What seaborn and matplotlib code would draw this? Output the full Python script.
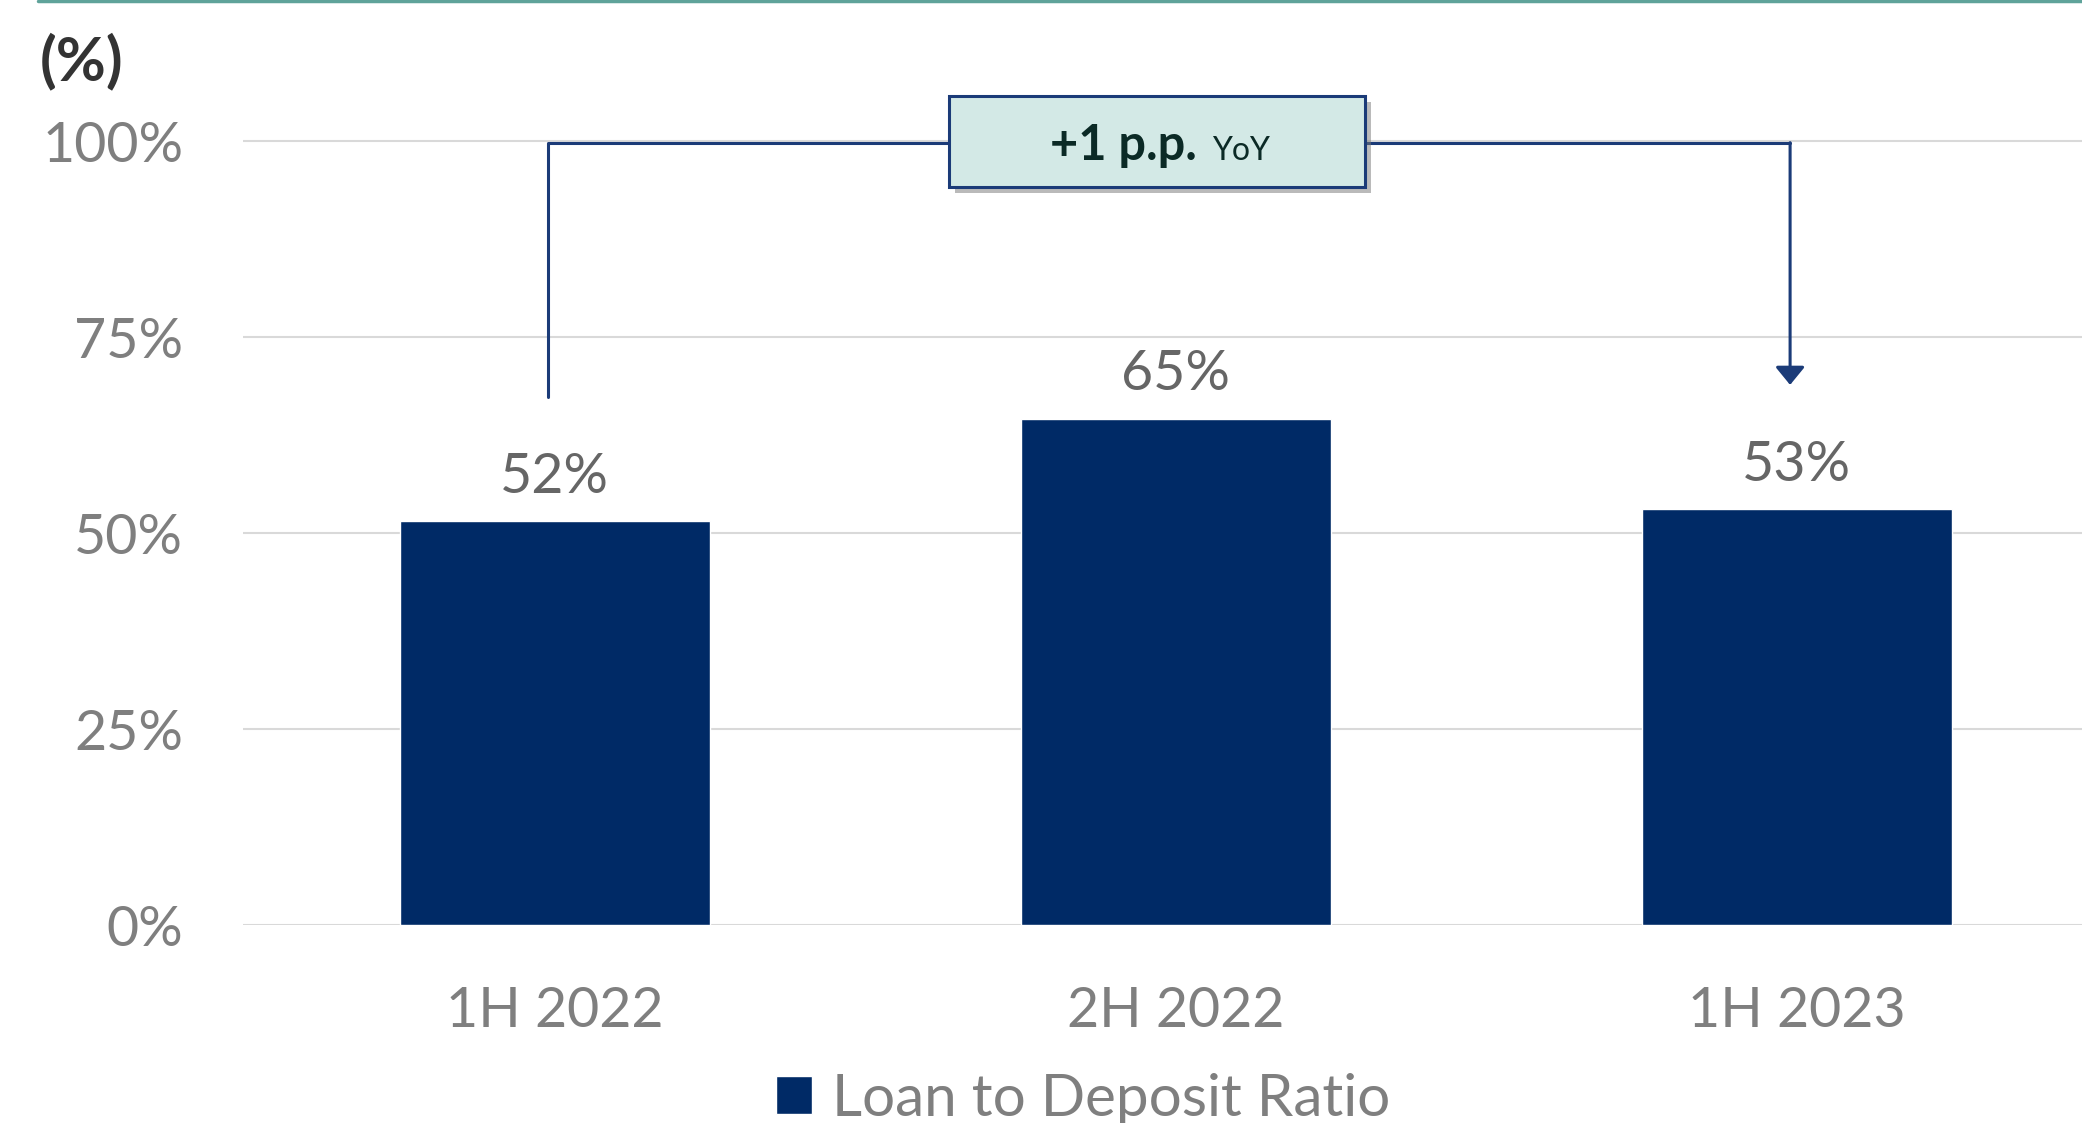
import matplotlib
matplotlib.use('Agg')
import matplotlib.pyplot as plt
import matplotlib.patheffects as pe
from matplotlib.patches import Rectangle
from matplotlib.lines import Line2D
import seaborn as sns
import pandas as pd

# data
periods = ['1H 2022', '2H 2022', '1H 2023']
ratios = [51.5, 64.6, 53.1]
value_labels = ['52%', '65%', '53%']
yticks = [0, 25, 50, 75, 100]
ytick_labels = ['0%', '25%', '50%', '75%', '100%']
series_name = 'Loan to Deposit Ratio'
change_bold = '+1 p.p.'
change_tail = 'YoY'

navy = '#002a66'
line_navy = '#1b3b78'
tick_grey = '#7f7f7f'
value_grey = '#666666'

sns.set_theme(style='white')
plt.rcParams['font.family'] = ['Lato', 'DejaVu Sans']

W, H = 2082, 1123
fig = plt.figure(figsize=(W / 100, H / 100), dpi=100)
ax = fig.add_axes([243 / W, 1 - 925 / H, 1 - 243 / W, 925 / H])

df = pd.DataFrame({'period': periods, 'ratio': ratios})
sns.barplot(data=df, x='period', y='ratio', color=navy, saturation=1,
            width=0.5, ax=ax, label=series_name, zorder=3)

ax.set_xlim(-0.502, 2.459)
ax.set_ylim(0, 118)
ax.set_yticks(yticks)
ax.set_yticklabels(ytick_labels)
ax.set_xlabel('')
ax.set_ylabel('')
ax.set_axisbelow(True)
ax.yaxis.grid(True, color='#d9d9d9', lw=1.5)
sns.despine(ax=ax, left=True, bottom=True)
ax.tick_params(axis='y', length=0, pad=43, labelsize=40, labelcolor=tick_grey)
ax.tick_params(axis='x', length=0, pad=44, labelsize=40, labelcolor=tick_grey)

# value labels over bars
for i, (v, lab) in enumerate(zip(ratios, value_labels)):
    ax.text(i, v + 3.6, lab, ha='center', va='baseline', fontsize=40,
            color=value_grey)

# YoY bracket from first to last bar
gap = 15.8
top = 99.7
nudge = -0.011
box_cx = 0.97
box_w, box_h = 0.67, 11.6
ax.plot([0 + nudge, 0 + nudge, box_cx - box_w / 2], [ratios[0] + gap, top, top],
        color=line_navy, lw=2.2, clip_on=False, zorder=4)
ax.plot([box_cx + box_w / 2, 2 + nudge], [top, top], color=line_navy, lw=2.2,
        clip_on=False, zorder=4)
ax.annotate('', xy=(2 + nudge, ratios[2] + gap), xytext=(2 + nudge, top + 0.1),
            arrowprops=dict(arrowstyle='-|>,head_length=0.55,head_width=0.45',
                            mutation_scale=20, color=line_navy, lw=2.2,
                            shrinkA=0, shrinkB=0), zorder=4)

box = Rectangle((box_cx - box_w / 2, 94.1), box_w, box_h, facecolor='#d3e9e6',
                edgecolor=line_navy, lw=2.2, clip_on=False, zorder=5)
box.set_path_effects([pe.withSimplePatchShadow(offset=(4, -4),
                                               shadow_rgbFace='#777777',
                                               alpha=0.5)])
ax.add_patch(box)
ax.text(box_cx + 0.064, 97.6, change_bold, ha='right', va='baseline',
        fontsize=35, fontweight='bold', color='#0b2a26', zorder=6)
ax.text(box_cx + 0.088, 97.6, change_tail, ha='left', va='baseline',
        fontsize=23, color='#0b2a26', zorder=6)

# legend under the axis
ax.legend(loc='center', bbox_to_anchor=(1083 / W, 24 / H),
          bbox_transform=fig.transFigure, frameon=False, fontsize=42,
          handlelength=0.62, handleheight=0.62, handletextpad=0.35,
          labelcolor=tick_grey, borderpad=0)

# unit label and thin teal rule at the top
fig.text(40 / W, 1 - 80 / H, '(%)', ha='left', va='baseline', fontsize=44,
         fontweight='bold', color='#333333')
fig.add_artist(Line2D([38 / W, 1], [1 - 1 / H, 1 - 1 / H], color='#5fa39a',
                      lw=2.5, transform=fig.transFigure))

fig.savefig('out.png', dpi=100)
